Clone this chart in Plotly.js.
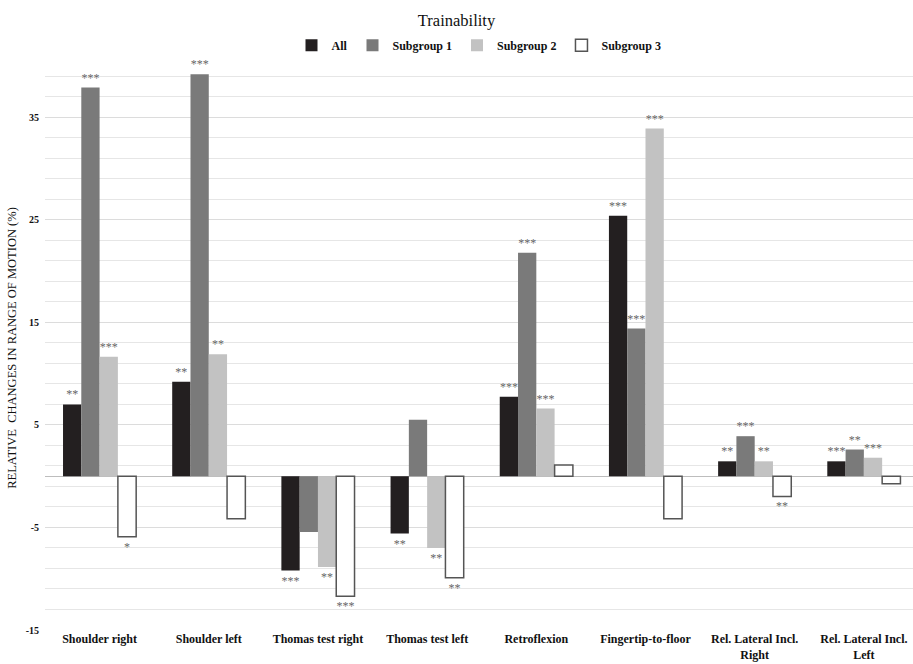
<!DOCTYPE html>
<html>
<head>
<meta charset="utf-8">
<script src="https://cdn.plot.ly/plotly-3.0.1.min.js"></script>
<style>html,body{margin:0;padding:0;background:#fff}#chart{width:913px;height:664px}</style>
</head>
<body>
<div id="chart"></div>
<script>
const categories = ["Shoulder right","Shoulder left","Thomas test right","Thomas test left","Retroflexion","Fingertip-to-floor","Rel. Lateral Incl.<br>Right","Rel. Lateral Incl.<br>Left"];
const allValues   = [7.0, 9.2, -9.2, -5.6, 7.75, 25.4, 1.45, 1.45];
const sub1Values  = [37.9, 39.2, -5.45, 5.5, 21.8, 14.4, 3.9, 2.6];
const sub2Values  = [11.65, 11.9, -8.85, -7.0, 6.6, 33.9, 1.45, 1.8];
const sub3Values  = [-5.9, -4.15, -11.7, -9.9, 1.1, -4.15, -1.97, -0.75];
const allStars  = ["**","**","***","**","***","***","**","***"];
const sub1Stars = ["***","***","","","***","***","***","**"];
const sub2Stars = ["***","**","**","**","***","***","**","***"];
const sub3Stars = ["*","","***","**","","","**",""];
const seriesNames = ["All","Subgroup 1","Subgroup 2","Subgroup 3"];
const yTickVals = [-15,-5,5,15,25,35];

const serif = "Liberation Serif, Times New Roman, serif";
const starFont = {family: serif, size: 12, color: "#666"};

function bar(name, values, stars, fill, line, lw) {
  return {
    type: "bar", name: name, x: categories, y: values,
    text: stars, textposition: "outside", cliponaxis: false,
    constraintext: "none", textfont: starFont,
    marker: {color: fill, line: {color: line, width: lw}},
    hoverinfo: "x+y"
  };
}

const data = [
  bar(seriesNames[0], allValues, allStars, "#231f20", "#231f20", 0),
  bar(seriesNames[1], sub1Values, sub1Stars, "#7a7a7a", "#7a7a7a", 0),
  bar(seriesNames[2], sub2Values, sub2Stars, "#c2c2c2", "#c2c2c2", 0),
  bar(seriesNames[3], sub3Values, sub3Stars, "#ffffff", "#555555", 1.5)
];

const layout = {
  width: 913, height: 664,
  margin: {l: 45, r: 0, t: 66, b: 34},
  paper_bgcolor: "#fff", plot_bgcolor: "#fff",
  font: {family: serif, color: "#111"},
  title: {text: "Trainability", x: 0.5, xanchor: "center", y: 0.97, yanchor: "middle", yref: "container",
          font: {family: serif, size: 16.5, color: "#111"}},
  barmode: "group", bargap: 0.33, bargroupgap: 0,
  showlegend: true,
  legend: {orientation: "h", x: 0.5, xanchor: "center", y: 1.037, yanchor: "middle",
           font: {family: serif, size: 12, color: "#111", weight: "bold"}, itemwidth: 30,
           traceorder: "normal"},
  xaxis: {
    range: [-0.5, 7.45], showgrid: false, zeroline: false, showline: false, ticks: "",
    tickfont: {family: serif, size: 12, color: "#111", weight: "bold"}, fixedrange: true
  },
  yaxis: {
    range: [-15, 40], tickvals: yTickVals, ticktext: yTickVals.map(String),
    showgrid: true, gridcolor: "#dcdcdc", gridwidth: 1,
    minor: {dtick: 2, tick0: -15, showgrid: true, gridcolor: "#e6e6e6", gridwidth: 1},
    zeroline: true, zerolinecolor: "#bdbdbd", zerolinewidth: 1,
    showline: false, ticks: "", ticklabelstandoff: 5,
    tickfont: {family: serif, size: 10, color: "#111", weight: "bold"},
    title: {text: "RELATIVE  CHANGES IN RANGE OF MOTION (%)", standoff: 6,
            font: {family: serif, size: 12.5, color: "#111"}},
    fixedrange: true
  }
};

Plotly.newPlot("chart", data, layout, {displayModeBar: false, staticPlot: true});
</script>
</body>
</html>
